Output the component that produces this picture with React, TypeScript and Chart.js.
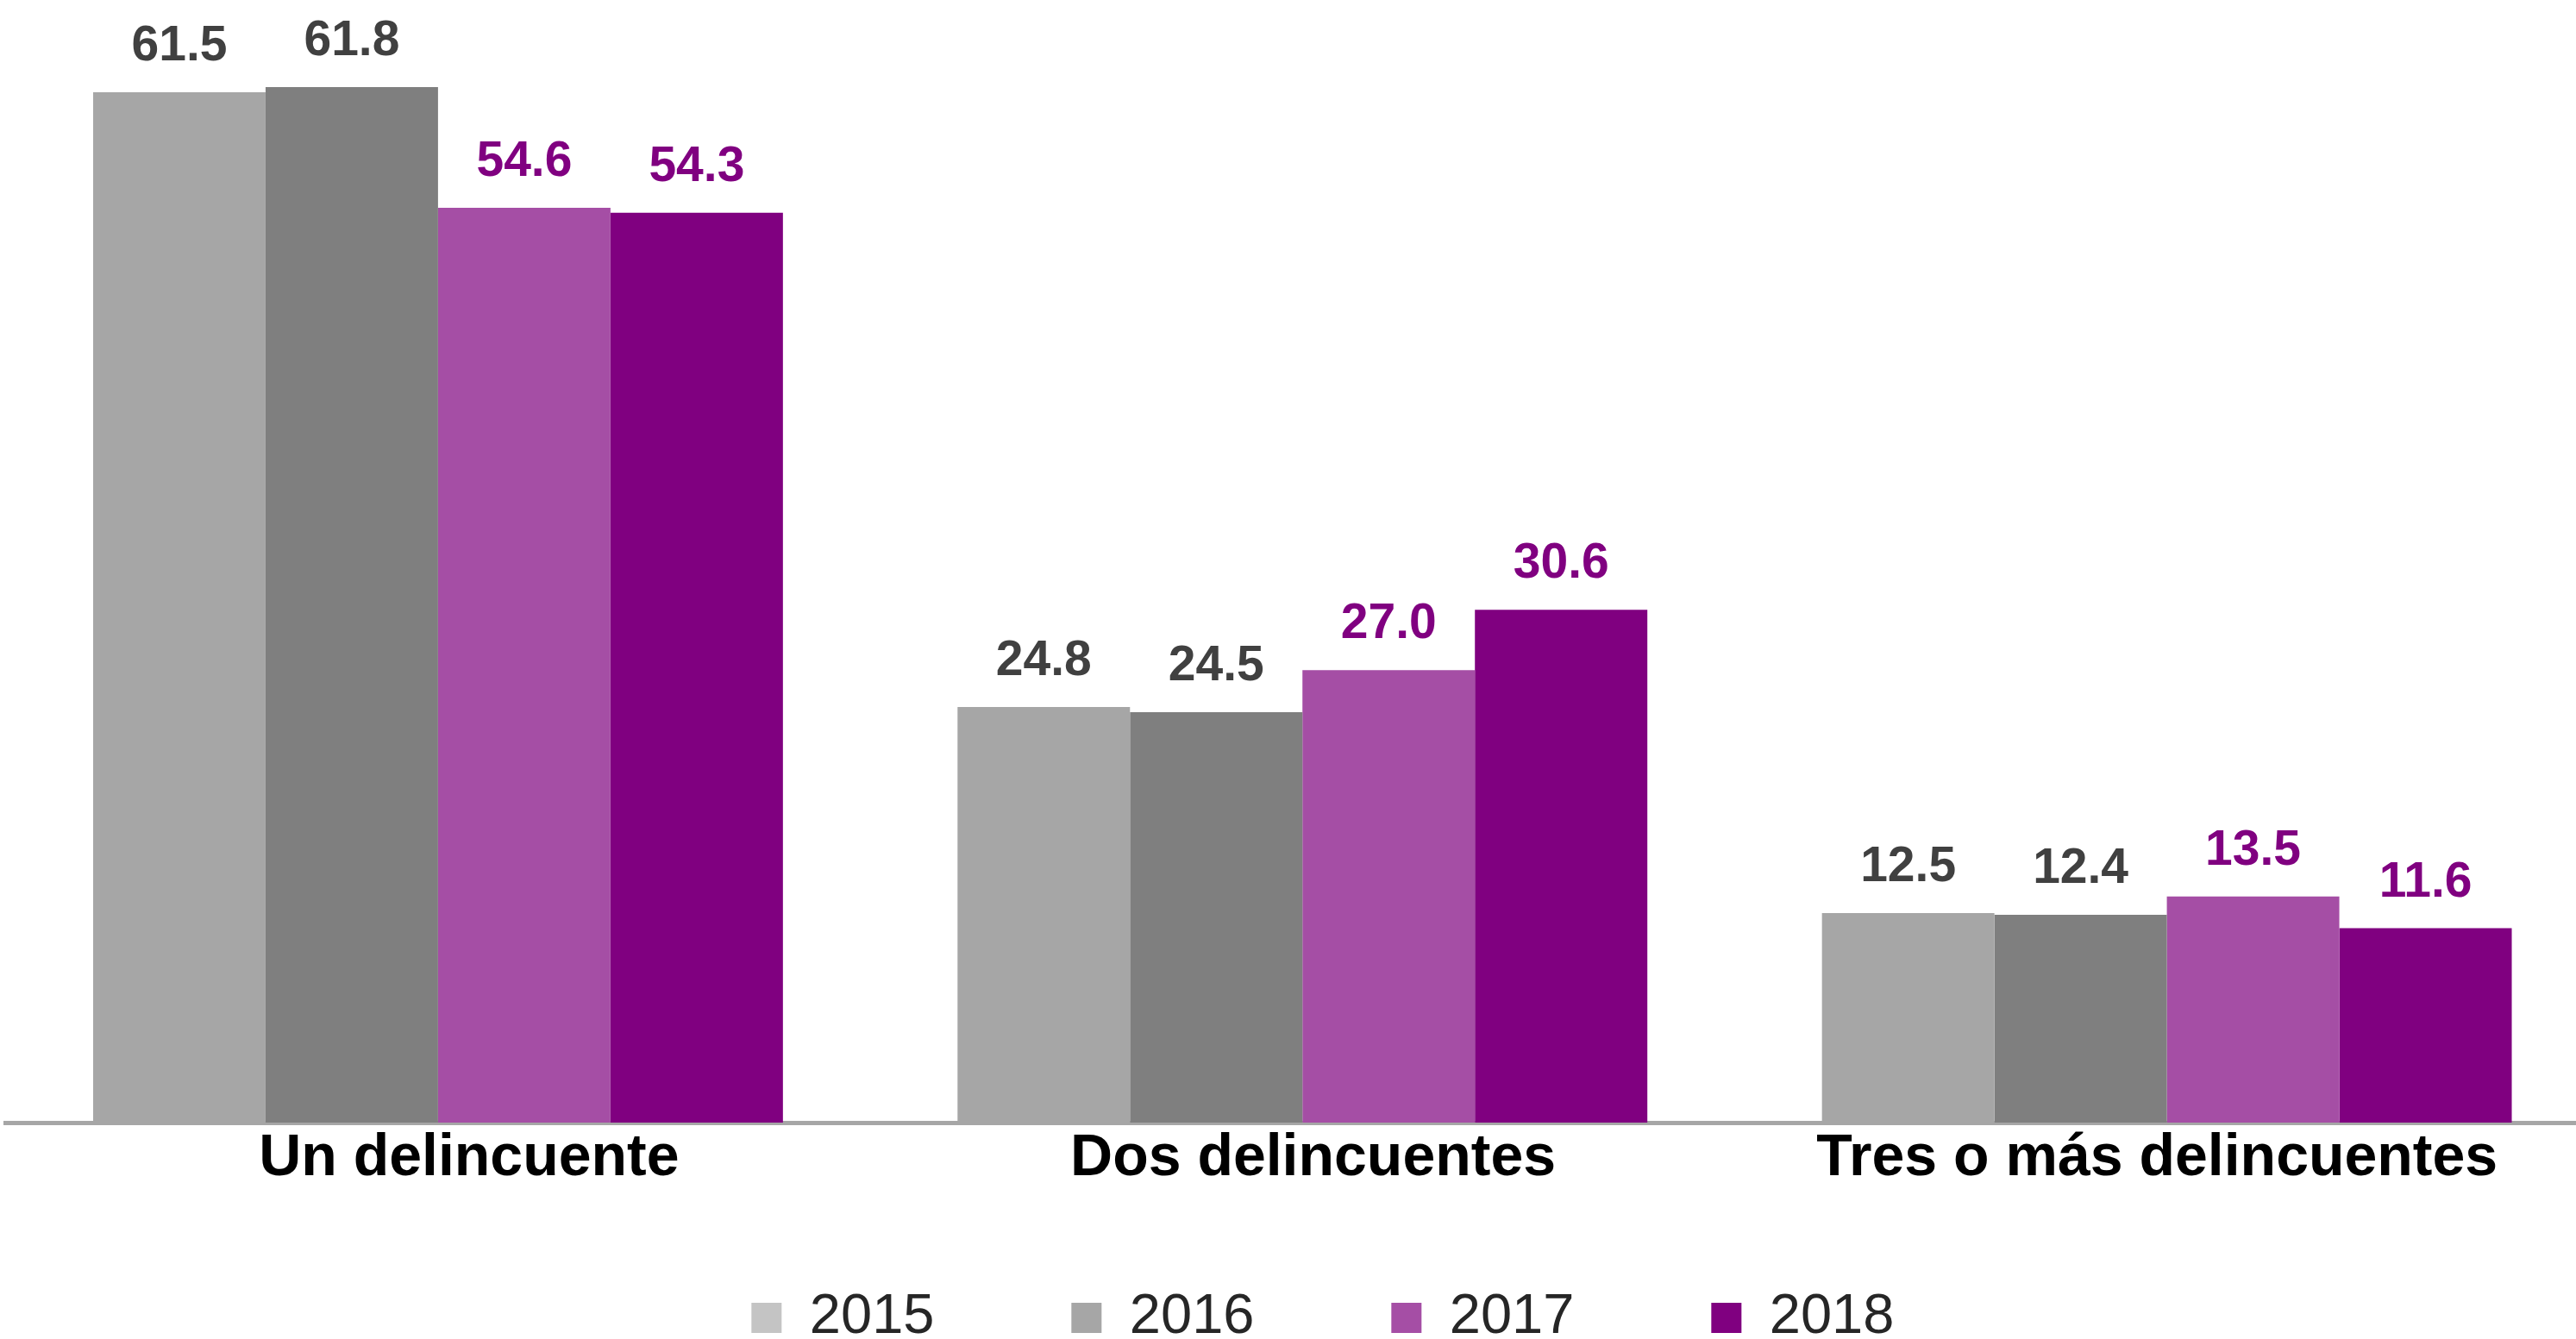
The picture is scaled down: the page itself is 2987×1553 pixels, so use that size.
import React, { useEffect, useRef } from "react";
import { Chart, registerables } from "chart.js";

Chart.register(...registerables);

const categories = ["Un delincuente", "Dos delincuentes", "Tres o más delincuentes"];
const seriesLabels = ["2015", "2016", "2017", "2018"];
const values2015 = [61.5, 24.8, 12.5];
const values2016 = [61.8, 24.5, 12.4];
const values2017 = [54.6, 27.0, 13.5];
const values2018 = [54.3, 30.6, 11.6];
const barColors = ["#A6A6A6", "#7F7F7F", "#A54EA5", "#800080"];
const legendColors = ["#C4C4C4", "#A6A6A6", "#A54EA5", "#800080"];
const labelColors = ["#404040", "#404040", "#800080", "#800080"];

const CANVAS_W = 3061;
const CANVAS_H = 1571;

const valueLabelPlugin = {
  id: "valueLabels",
  afterDatasetsDraw(chart: any) {
    const ctx = chart.ctx;
    ctx.save();
    ctx.font = "bold 57px 'Liberation Sans', Arial, sans-serif";
    ctx.textAlign = "center";
    ctx.textBaseline = "alphabetic";
    chart.data.datasets.forEach((ds: any, di: number) => {
      const meta = chart.getDatasetMeta(di);
      ctx.fillStyle = labelColors[di];
      meta.data.forEach((bar: any, i: number) => {
        const v = ds.data[i] as number;
        ctx.fillText(v.toFixed(1), bar.x, bar.y - 37);
      });
    });
    ctx.restore();
  },
};

export default function App() {
  const canvasRef = useRef<HTMLCanvasElement | null>(null);

  useEffect(() => {
    if (!canvasRef.current) return;
    const allValues = [values2015, values2016, values2017, values2018];
    const chart = new Chart(canvasRef.current, {
      type: "bar",
      data: {
        labels: categories,
        datasets: seriesLabels.map((label, i) => ({
          label,
          data: allValues[i],
          backgroundColor: barColors[i],
          borderWidth: 0,
          categoryPercentage: 0.798,
          barPercentage: 1.0,
        })),
      },
      options: {
        responsive: false,
        animation: false,
        devicePixelRatio: 1,
        layout: { padding: { left: 6.75, right: 0, top: 0, bottom: 0 } },
        plugins: {
          tooltip: { enabled: false },
          title: { display: false },
          legend: {
            display: true,
            position: "bottom",
            labels: {
              boxWidth: 35,
              boxHeight: 35,
              padding: 158.9,
              color: "#262626",
              font: { family: "'Liberation Sans', Arial, sans-serif", size: 65 },
              generateLabels: () =>
                seriesLabels.map((text, i) => ({
                  text,
                  fillStyle: legendColors[i],
                  strokeStyle: legendColors[i],
                  lineWidth: 0,
                  hidden: false,
                  datasetIndex: i,
                  fontColor: "#262626",
                })),
            },
          },
        },
        scales: {
          x: {
            position: "bottom",
            weight: 0,
            grid: { display: false, drawTicks: false },
            border: { display: true, color: "#A6A6A6", width: 5 },
            ticks: { display: false },
            afterFit: (scale: any) => {
              scale.height = 0;
            },
          },
          xl: {
            type: "linear",
            position: "bottom",
            weight: 1,
            offset: false,
            bounds: "data",
            beginAtZero: false,
            min: 0.4512,
            max: 3.5237,
            grid: { display: false, drawTicks: false, offset: false },
            border: { display: false },
            afterBuildTicks: (scale: any) => {
              scale.ticks = categories.map((_, i) => ({ value: i + 1 }));
            },
            ticks: {
              padding: 8,
              color: "#000000",
              font: { family: "'Liberation Sans', Arial, sans-serif", size: 68, weight: "bold", lineHeight: 1 },
              maxRotation: 0,
              autoSkip: false,
              callback: (v: any) => categories[Math.round(Number(v)) - 1] ?? "",
            },
            afterFit: (scale: any) => {
              scale.height = 35.1;
              scale.paddingLeft = 0;
              scale.paddingRight = 0;
              scale._computeLabelArea = () => undefined;
            },
          },
          y: {
            position: "right",
            min: 0,
            max: 67,
            display: true,
            grid: { display: false, drawTicks: false },
            border: { display: false },
            ticks: { display: false },
            afterFit: (scale: any) => {
              scale.width = 47.25;
            },
          },
        },
      },
      plugins: [valueLabelPlugin],
    });
    return () => chart.destroy();
  }, []);

  return (
    <div
      style={{
        position: "fixed",
        left: 0,
        top: 0,
        width: "2987px",
        height: "1553px",
        overflow: "hidden",
        background: "#ffffff",
      }}
    >
      <canvas
        ref={canvasRef}
        width={CANVAS_W}
        height={CANVAS_H}
        style={{ width: CANVAS_W + "px", height: CANVAS_H + "px", display: "block" }}
      />
    </div>
  );
}
